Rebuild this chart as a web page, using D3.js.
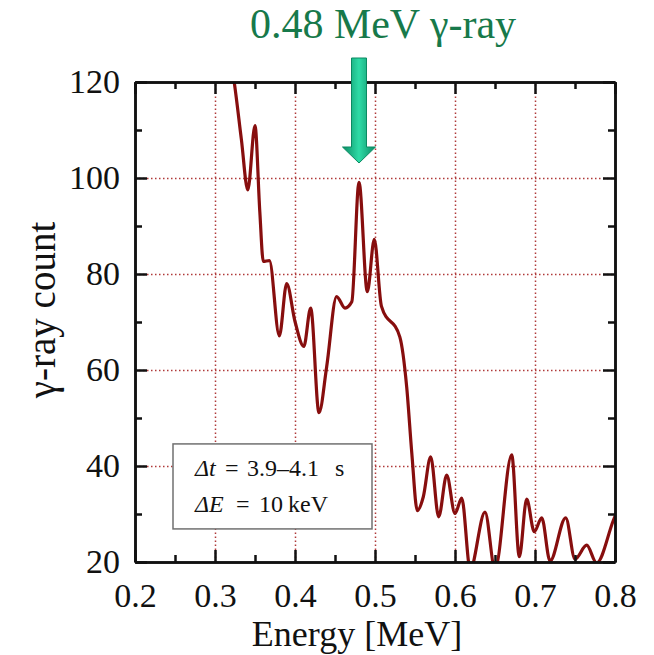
<!DOCTYPE html>
<html>
<head>
<meta charset="utf-8">
<script src="https://cdn.jsdelivr.net/npm/d3@7"></script>
<style>
  body { margin: 0; background: #fff; }
  svg text { font-family: "Liberation Serif", "Times New Roman", serif; }
</style>
</head>
<body>
<div id="chart"></div>
<script>
// spectrum (energy in MeV, counts)
const energy = [0.316, 0.324, 0.333, 0.341, 0.350, 0.356, 0.3604, 0.368, 0.3804, 0.3896,
  0.400, 0.411, 0.4196, 0.430, 0.4396, 0.452, 0.4625, 0.471, 0.480, 0.4904,
  0.4991, 0.508, 0.531, 0.5396, 0.546, 0.5529, 0.5604, 0.5696, 0.5796, 0.5896,
  0.600, 0.6084, 0.619, 0.6375, 0.650, 0.6709, 0.6804, 0.6896, 0.6991, 0.7084,
  0.7188, 0.7384, 0.750, 0.7646, 0.777, 0.798, 0.806];
const counts = [128, 120, 108, 97.5, 110.9, 93, 82.6, 82.8, 67.1, 78,
  70.1, 64.9, 72.9, 51.1, 60.7, 75.3, 72.9, 74.2, 99.1, 76.3,
  87.2, 73.3, 66.9, 56.5, 42.7, 30.7, 33.6, 41.9, 29.4, 38.1,
  30.1, 33.3, 18.5, 30.4, 18.5, 42.3, 21.1, 33.1, 26.3, 29.2,
  20.2, 29.2, 20.6, 23.5, 19.8, 28.7, 32];

const xMajor = [0.2, 0.3, 0.4, 0.5, 0.6, 0.7, 0.8];
const xMinor = [0.25, 0.35, 0.45, 0.55, 0.65, 0.75];
const yMajor = [20, 40, 60, 80, 100, 120];
const yMinor = [30, 50, 70, 90, 110];

const title = "0.48 MeV \u03b3-ray";
const peakEnergy = 0.48;
const noteLines = [
  [{t: "\u0394t", it: true, dx: 0}, {t: "=", dx: 30}, {t: "3.9\u20134.1", dx: 52}, {t: "s", dx: 140}],
  [{t: "\u0394E", it: true, dx: 0}, {t: "=", dx: 41}, {t: "10", dx: 64}, {t: "keV", dx: 93}]
];

const width = 654, height = 655;
const margin = {left: 135, right: 39, top: 82, bottom: 93};
const iw = width - margin.left - margin.right,
      ih = height - margin.top - margin.bottom;

const x = d3.scaleLinear().domain([0.2, 0.8]).range([0, iw]);
const y = d3.scaleLinear().domain([20, 120]).range([ih, 0]);

const svg = d3.select("#chart").append("svg")
    .attr("width", width)
    .attr("height", height);

const defs = svg.append("defs");
defs.append("clipPath").attr("id", "plot-clip")
  .append("rect").attr("width", iw).attr("height", ih);

let grad = defs.append("linearGradient").attr("id", "arrow-grad")
    .attr("x1", "0%").attr("x2", "100%").attr("y1", "0%").attr("y2", "0%");
grad.append("stop").attr("offset", "0%").attr("stop-color", "#0a8a63");
grad.append("stop").attr("offset", "50%").attr("stop-color", "#2edba6");
grad.append("stop").attr("offset", "100%").attr("stop-color", "#0a8a63");

const g = svg.append("g")
    .attr("transform", "translate(" + margin.left + "," + margin.top + ")");

// dotted grid
g.append("g")
  .attr("class", "grid")
  .attr("transform", "translate(0," + ih + ")")
  .call(d3.axisBottom(x).tickValues(xMajor.slice(1, -1)).tickSize(-ih).tickFormat(""));
g.append("g")
  .attr("class", "grid")
  .call(d3.axisLeft(y).tickValues(yMajor.slice(1, -1)).tickSize(-iw).tickFormat(""));
g.selectAll(".grid .domain").remove();
g.selectAll(".grid line")
  .attr("stroke", "#b03a3a")
  .attr("stroke-width", 1.5)
  .attr("stroke-dasharray", "1.5,2.5");

// spectrum
const line = d3.line()
    .x((d, i) => x(energy[i]))
    .y((d) => y(d))
    .curve(d3.curveMonotoneX);

g.append("path")
  .datum(counts)
  .attr("clip-path", "url(#plot-clip)")
  .attr("d", line)
  .attr("fill", "none")
  .attr("stroke", "#870e0e")
  .attr("stroke-width", 3.2)
  .attr("stroke-linejoin", "round");

// note box
const box = g.append("g").attr("transform", "translate(" + (x(0.2475)) + "," + (y(44.6)) + ")");
box.append("rect")
  .attr("width", 199).attr("height", 85)
  .attr("fill", "#fff")
  .attr("stroke", "#707070")
  .attr("stroke-width", 1.5);
noteLines.forEach((parts, li) => {
  let t = box.append("text")
    .attr("y", 32 + li * 36.5)
    .attr("font-size", 24)
    .attr("fill", "#111");
  parts.forEach((p) => {
    t.append("tspan")
      .attr("x", 22 + p.dx)
      .attr("font-style", p.it ? "italic" : null)
      .text(p.t);
  });
});

// axes with inward ticks
function frame(axis, size, vals, tx, labels, pad) {
  let a = g.append("g").attr("class", "axis").attr("transform", tx)
    .call(axis.tickValues(vals).tickSize(size).tickSizeOuter(0).tickPadding(pad || 3)
      .tickFormat(labels ? d3.format(labels) : ""));
  a.selectAll("line").attr("stroke", "#111").attr("stroke-width", 2.5);
  a.select(".domain").attr("stroke", "#111").attr("stroke-width", 2.5);
  a.selectAll("text").attr("font-size", 34).attr("fill", "#111");
  return a;
}
frame(d3.axisBottom(x), -7, xMinor, "translate(0," + ih + ")");
frame(d3.axisBottom(x), -12, xMajor, "translate(0," + ih + ")", ".1f", 21);
frame(d3.axisTop(x), -7, xMinor, "translate(0,0)");
frame(d3.axisTop(x), -12, xMajor, "translate(0,0)");
frame(d3.axisLeft(y), -7, yMinor, "translate(0,0)");
frame(d3.axisLeft(y), -12, yMajor, "translate(0,0)", "d", 15);
frame(d3.axisRight(y), -7, yMinor, "translate(" + iw + ",0)");
frame(d3.axisRight(y), -12, yMajor, "translate(" + iw + ",0)");

// axis titles
svg.append("text")
  .attr("x", margin.left + iw / 2 - 18)
  .attr("y", 646)
  .attr("text-anchor", "middle")
  .attr("font-size", 36)
  .attr("fill", "#111")
  .text("Energy [MeV]");
svg.append("text")
  .attr("transform", "translate(55,310) rotate(-90)")
  .attr("text-anchor", "middle")
  .attr("font-size", 39)
  .attr("fill", "#111")
  .text("\u03b3-ray count");

// annotation: label + arrow pointing at the peak
const ax = margin.left + x(peakEnergy);
svg.append("text")
  .attr("x", 383)
  .attr("y", 38)
  .attr("text-anchor", "middle")
  .attr("font-size", 42)
  .attr("fill", "#17794a")
  .text(title);

const shaftW = 15, headW = 33, headH = 16, arrowTop = 58, arrowTip = 163;
svg.append("path")
  .attr("d", d3.line()([
    [ax - shaftW / 2, arrowTop], [ax + shaftW / 2, arrowTop],
    [ax + shaftW / 2, arrowTip - headH], [ax + headW / 2, arrowTip - headH],
    [ax, arrowTip], [ax - headW / 2, arrowTip - headH],
    [ax - shaftW / 2, arrowTip - headH]
  ]) + "Z")
  .attr("fill", "url(#arrow-grad)")
  .attr("stroke", "#0b8a62")
  .attr("stroke-width", 1);
</script>
</body>
</html>
